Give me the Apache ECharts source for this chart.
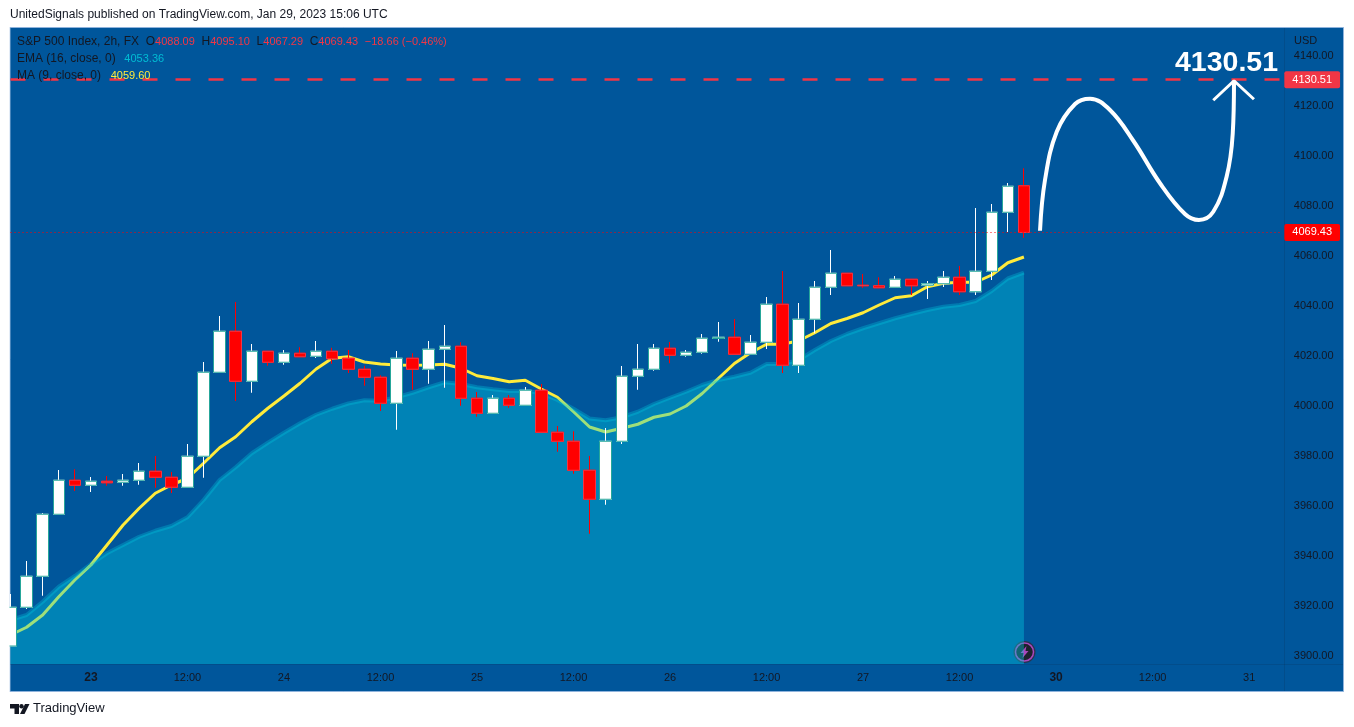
<!DOCTYPE html>
<html><head><meta charset="utf-8">
<style>html,body{margin:0;padding:0;background:#fff;overflow:hidden}#c{width:1354px;height:727px}</style>
<script src="https://cdn.jsdelivr.net/npm/echarts@6/dist/echarts.min.js"></script>
</head><body><div id="c"></div>
<script>
const opens=[3904.0,3919.5,3931.9,3956.7,3970.3,3968.3,3969.9,3969.5,3970.3,3973.9,3971.5,3967.5,3979.9,4013.5,4029.9,4009.9,4021.9,4017.5,4021.1,4019.9,4021.9,4019.1,4014.7,4011.5,4001.1,4019.1,4014.7,4022.7,4023.9,4003.1,3997.1,4003.1,4000.3,4006.3,3989.5,3985.9,3974.3,3962.7,3985.9,4011.9,4014.7,4023.1,4020.3,4021.5,4027.0,4027.5,4020.7,4025.5,4040.7,4016.3,4034.7,4047.5,4053.1,4048.3,4048.1,4047.5,4050.7,4048.3,4048.9,4051.5,4045.7,4053.9,4077.5,4088.09];
const closes=[3919.5,3931.9,3956.7,3970.3,3968.3,3969.9,3969.3,3970.3,3973.9,3971.5,3967.5,3979.9,4013.5,4029.9,4009.9,4021.9,4017.5,4021.1,4019.7,4021.9,4018.9,4014.7,4011.5,4001.1,4019.1,4014.7,4022.7,4023.9,4003.1,3997.1,4003.1,4000.3,4006.3,3989.5,3985.9,3974.3,3962.7,3985.9,4011.9,4014.7,4023.1,4020.3,4021.5,4027.1,4027.5,4020.7,4025.5,4040.7,4016.3,4034.7,4047.5,4053.1,4048.1,4048.1,4047.3,4050.7,4048.1,4048.9,4051.5,4045.7,4053.9,4077.5,4087.9,4069.43];
const lows=[3904.0,3918.8,3924.1,3956.7,3966.0,3965.6,3968.1,3968.1,3968.5,3967.3,3965.2,3967.5,3971.3,4013.5,4002.0,4005.3,4016.1,4016.5,4019.7,4019.2,4016.9,4013.2,4008.1,3998.0,3990.5,4006.5,4008.9,4007.3,4000.1,3995.7,3997.1,3999.3,4000.3,3989.5,3981.7,3972.9,3948.9,3960.5,3984.8,4006.5,4014.1,4017.1,4019.7,4020.9,4025.7,4020.7,4020.7,4022.8,4013.2,4013.2,4029.1,4044.4,4048.1,4047.2,4047.3,4047.5,4044.4,4042.8,4047.6,4044.4,4044.4,4050.4,4069.6,4067.29];
const highs=[3924.8,3938.0,3957.2,3974.4,3974.7,3971.6,3972.0,3972.8,3977.2,3980.0,3973.6,3984.8,4017.6,4036.0,4041.6,4024.8,4021.9,4022.4,4023.5,4026.0,4023.3,4022.4,4016.1,4012.3,4022.0,4021.1,4026.0,4032.4,4025.5,4005.6,4004.4,4004.4,4007.6,4008.8,3992.0,3989.9,3980.0,3991.2,4016.0,4024.8,4024.8,4025.6,4022.4,4028.8,4033.6,4034.8,4028.4,4043.6,4054.0,4041.2,4050.0,4062.4,4053.1,4052.8,4051.5,4052.0,4050.7,4050.0,4054.0,4056.0,4079.2,4080.8,4089.2,4095.10];
const emaValues=[3914.4,3916.4,3921.7,3927.7,3932.0,3936.8,3941.1,3944.4,3947.7,3950.1,3952.0,3955.5,3962.4,3970.4,3975.5,3981.1,3985.3,3989.3,3993.1,3996.5,3998.9,4001.0,4002.3,4002.1,4003.5,4005.3,4007.5,4009.5,4008.8,4007.5,4006.7,4006.0,4006.1,4005.1,4002.4,3998.9,3995.0,3994.3,3995.5,3997.7,4000.8,4003.3,4005.7,4008.4,4010.4,4011.7,4013.3,4016.8,4016.8,4018.4,4022.4,4026.0,4028.8,4031.1,4033.1,4035.1,4036.8,4038.4,4039.7,4040.4,4042.0,4046.0,4051.0,4053.36];
const maValues=[3908.4,3911.5,3916.4,3923.7,3930.4,3936.4,3944.4,3952.4,3959.1,3965.1,3968.4,3971.1,3977.1,3983.3,3987.7,3993.7,3999.1,4004.0,4009.1,4014.8,4019.1,4019.7,4017.6,4016.8,4016.4,4016.3,4016.4,4016.7,4015.1,4012.1,4011.0,4009.7,4010.3,4006.8,4003.5,3997.7,3991.6,3989.6,3991.1,3992.7,3995.5,3996.8,4000.0,4005.0,4011.0,4017.0,4021.3,4024.7,4024.7,4026.1,4029.3,4033.0,4035.0,4037.3,4040.4,4043.3,4044.1,4047.7,4049.1,4049.5,4049.5,4052.4,4057.3,4059.6];
const xLabelAt={5:'{b|23}',11:'12:00',17:'24',23:'12:00',29:'25',35:'12:00',41:'26',47:'12:00',53:'27',59:'12:00',65:'{b|30}',71:'12:00',77:'31'};
const categories=Array.from({length:80},(_,i)=>xLabelAt[i]||'');
const yTicks=[3900,3920,3940,3960,3980,4000,4020,4040,4060,4080,4100,4120,4140];
const forecastCurve=[[64.00,4070.1],[64.31,4090.4],[65.04,4109.7],[66.18,4120.8],[67.11,4122.9],[68.35,4118.4],[69.80,4106.1],[71.46,4089.1],[73.01,4076.8],[73.88,4074.4],[74.77,4077.7],[75.60,4091.7],[75.98,4108.9],[76.06,4130.1]];
const arrowHead=[[74.77,4122.3],[76.06,4130.1],[77.30,4122.7]];
const targetPrice=4130.51, lastClose=4069.43;
const INK='#131722', RED='#f23645', FONT='"Liberation Sans",Arial,sans-serif';

const ohlc=opens.map((o,i)=>[o,closes[i],lows[i],highs[i]]);
const bodies=opens.map((o,i)=>[o,closes[i],Math.min(o,closes[i]),Math.max(o,closes[i])]);

const chart=echarts.init(document.getElementById('c'),null,{renderer:'canvas'});
const priceLabel=(bg)=>({show:true,position:'end',distance:3,formatter:p=>p.value.toFixed(2),color:'#fff',backgroundColor:bg,
  fontFamily:FONT,fontSize:11,padding:[3,8,3,8],borderRadius:2});
const num=(c,pad)=>({fill:c,font:'11px '+FONT,padding:[0,0,0,pad||0]});
chart.setOption({
 animation:false,backgroundColor:'#fff',
 grid:{left:10.5,top:28,right:72.7,bottom:63,containLabel:false},
 xAxis:[{type:'category',data:categories,boundaryGap:false,axisLine:{show:false},axisTick:{show:false},splitLine:{show:false},
   axisLabel:{interval:0,margin:8,color:INK,fontFamily:FONT,fontSize:11,formatter:v=>v,rich:{b:{fontWeight:'bold',fontSize:12,color:INK,fontFamily:FONT}}}},
  {type:'value',min:0,max:79,show:false}],
 yAxis:{type:'value',position:'right',min:3896.8,max:4151.2,axisLine:{show:false},axisTick:{show:false},splitLine:{show:false},
   axisLabel:{customValues:yTicks,margin:12.5,padding:[4,0,0,0],color:INK,fontFamily:FONT,fontSize:11,formatter:v=>v.toFixed(2)}},
 series:[
  {name:'MA 9',type:'line',data:maValues,symbol:'none',smooth:false,z:1,lineStyle:{color:'#ffeb3b',width:3},silent:true},
  {name:'EMA 16',type:'line',data:emaValues,symbol:'none',z:2,lineStyle:{color:'rgba(0,205,225,0.3)',width:4},
   areaStyle:{color:'rgba(0,205,225,0.38)',origin:'start',opacity:1},silent:true},
  {name:'S&P 500 wicks',type:'candlestick',data:ohlc,barWidth:12,z:3,silent:true,
   itemStyle:{color:'#ffffff',color0:'#ff0000',borderColor:'#ffffff',borderColor0:'#ff0000',borderWidth:1},
   markLine:{silent:true,symbol:'none',animation:false,z:6,precision:2,
    data:[
     {yAxis:targetPrice,lineStyle:{color:RED,type:[15,18],width:2.5},label:priceLabel(RED)},
     {yAxis:lastClose,lineStyle:{color:'#ff0000',type:[1,3],width:1},label:priceLabel('#ff0000')}
    ]}},
  {name:'S&P 500 bodies',type:'candlestick',data:bodies,barWidth:12,z:4,silent:true,
   itemStyle:{color:'#ffffff',color0:'#ff0000',borderColor:'#26a69a',borderColor0:RED,borderWidth:1}},
  {name:'Forecast',type:'line',xAxisIndex:1,data:forecastCurve,symbol:'none',smooth:0.4,smoothConstraint:false,z:7,lineStyle:{color:'#fff',width:4},silent:true},
  {name:'Arrow',type:'line',xAxisIndex:1,data:arrowHead,symbol:'none',z:7,lineStyle:{color:'#fff',width:3},silent:true}
 ],
 graphic:[
  {type:'rect',z:-10,shape:{x:10,y:27.5,width:1333.5,height:664},style:{fill:'#00569b',stroke:'#8fb3dc',lineWidth:1},silent:true},
  {type:'rect',z:5,shape:{x:0,y:28,width:9.5,height:663},style:{fill:'#fff'},silent:true},
  {type:'line',z:-5,shape:{x1:1284.5,y1:28,x2:1284.5,y2:691},style:{stroke:'rgba(19,23,34,0.13)',lineWidth:1}},
  {type:'line',z:-5,shape:{x1:10,y1:664.5,x2:1343,y2:664.5},style:{stroke:'rgba(19,23,34,0.13)',lineWidth:1}},
  {type:'text',x:10,y:9,style:{text:'UnitedSignals published on TradingView.com, Jan 29, 2023 15:06 UTC',fill:INK,font:'12px '+FONT}},
  {type:'text',z:20,x:17,y:36,style:{text:'S&P 500 Index, 2h, FX  O{r|4088.09}  H{r|4095.10}  L{r|4067.29}  C{r|4069.43}  {r|\u221218.66 (\u22120.46%)}',fill:INK,font:'12px '+FONT,rich:{r:num(RED)}}},
  {type:'text',z:20,x:17,y:53,style:{text:'EMA (16, close, 0)  {c|4053.36}',fill:INK,font:'12px '+FONT,rich:{c:num('#00bcd4',2)}}},
  {type:'text',z:20,x:17,y:70,style:{text:'MA (9, close, 0)  {y|4059.60}',fill:INK,font:'12px '+FONT,rich:{y:num('#ffeb3b',3)}}},
  {type:'text',z:20,x:1294,y:35,style:{text:'USD',fill:INK,font:'11px '+FONT}},
  {type:'text',z:20,x:1175,y:63,style:{text:'4130.51',fill:'#fff',font:'bold 28.5px '+FONT,verticalAlign:'middle'}},
  {type:'group',z:20,x:1024.5,y:652,children:[
    {type:'circle',shape:{cx:0,cy:0,r:11},style:{fill:'#2a3350'}},
    {type:'circle',shape:{cx:0,cy:0,r:9},style:{fill:'#1e222d',stroke:'#ab47bc',lineWidth:1.5}},
    {type:'polygon',shape:{points:[[2,-6],[-4,1],[-1,1],[-2,6],[4,-1],[1,-1]]},style:{fill:'#ab47bc'}}
  ]},
  {type:'group',z:20,x:10,y:704,children:[
    {type:'polygon',shape:{points:[[0,0],[9,0],[9,10],[4.5,10],[4.5,4.5],[0,4.5]]},style:{fill:INK}},
    {type:'circle',shape:{cx:11.5,cy:2.2,r:2.2},style:{fill:INK}},
    {type:'polygon',shape:{points:[[15,0],[19.5,0],[14.5,10],[10,10]]},style:{fill:INK}}
  ]},
  {type:'text',z:20,x:33,y:702,style:{text:'TradingView',fill:INK,font:'13px '+FONT}}
 ]
});
</script></body></html>
